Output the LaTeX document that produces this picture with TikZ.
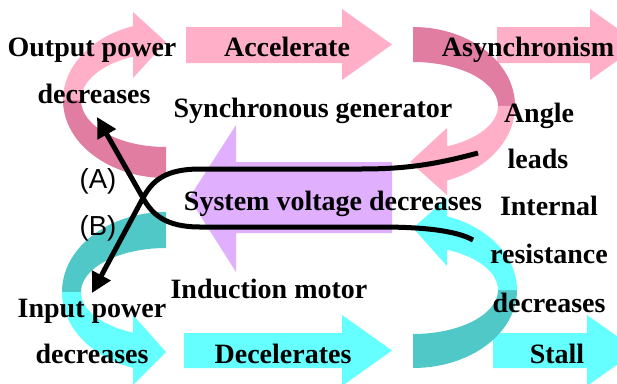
\documentclass[tikz,border=0pt]{standalone}
\usepackage{fontspec}
\setmainfont{Liberation Serif}
\newfontfamily\labfont{Liberation Sans}
\usetikzlibrary{arrows.meta}
\definecolor{pinkL}{RGB}{255,176,200}
\definecolor{pinkD}{RGB}{224,125,160}
\definecolor{cyanL}{RGB}{102,255,255}
\definecolor{cyanD}{RGB}{80,200,200}
\definecolor{purp}{RGB}{224,176,255}
\begin{document}
\begin{tikzpicture}[x=1pt,y=-1pt,
  txt/.style={font=\bfseries\fontsize{28}{33}\selectfont, inner sep=0pt, anchor=base},
  lab/.style={font=\labfont\fontsize{27.5}{33}\selectfont, inner sep=0pt, anchor=base},
  blk/.style={line width=5pt, draw=black, -{Triangle[length=20pt,width=20pt]}}]
\useasboundingbox (0,0) rectangle (617,383);
\clip (0,0) rectangle (617,383);
% straight block arrows
\fill[pinkL] (186,27) -- (342,27) -- (342,9) -- (392,44.5) -- (342,80) -- (342,63) -- (186,63) -- cycle;
\fill[pinkL] (497,27) -- (590,27) -- (590,9) -- (640,44.5) -- (590,80) -- (590,63) -- (497,63) -- cycle;
\fill[cyanL] (184,333) -- (342,333) -- (342,315) -- (392,350.5) -- (342,386) -- (342,368) -- (184,368) -- cycle;
\fill[cyanL] (493,333) -- (587,333) -- (587,315) -- (637,350.5) -- (587,386) -- (587,368) -- (493,368) -- cycle;
\fill[purp] (392,162) -- (236,162) -- (236,125) -- (189,198) -- (236,272) -- (236,233) -- (392,233) -- cycle;
% left pink curve
\fill[pinkD] (166,178) arc[start angle=270,end angle=180,x radius=103pt,y radius=78pt]
  -- (81,100) arc[start angle=180,end angle=270,x radius=85pt,y radius=47pt] -- cycle;
\fill[pinkL] (63,100) arc[start angle=180,end angle=108.69,x radius=103pt,y radius=78pt]
  -- (133,12) -- (166,42) -- (133,78) -- (133,56.7)
  arc[start angle=112.84,end angle=180,x radius=85pt,y radius=47pt] -- cycle;
% right pink curve
\fill[pinkD] (413,27) arc[start angle=90,end angle=0,x radius=102pt,y radius=79pt]
  -- (498,106) arc[start angle=0,end angle=90,x radius=85pt,y radius=44pt] -- cycle;
\fill[pinkL] (515,106) arc[start angle=0,end angle=-70.53,x radius=102pt,y radius=79pt]
  -- (447,195) -- (410,162) -- (447,128) -- (447,146.3)
  arc[start angle=-66.42,end angle=0,x radius=85pt,y radius=44pt] -- cycle;
% left cyan curve
\fill[cyanD] (166,212) arc[start angle=90,end angle=180,x radius=104pt,y radius=80pt]
  -- (81,292) arc[start angle=180,end angle=90,x radius=85pt,y radius=44pt] -- cycle;
\fill[cyanL] (62,292) arc[start angle=180,end angle=251.5,x radius=104pt,y radius=80pt]
  -- (133,385) -- (166,352) -- (133,315) -- (133,332.6)
  arc[start angle=247.16,end angle=180,x radius=85pt,y radius=44pt] -- cycle;
% right cyan curve
\fill[cyanD] (413,368) arc[start angle=270,end angle=360,x radius=104pt,y radius=78pt]
  -- (498,290) arc[start angle=0,end angle=-90,x radius=85pt,y radius=44pt] -- cycle;
\fill[cyanL] (517,290) arc[start angle=0,end angle=70.92,x radius=104pt,y radius=78pt]
  -- (447,198) -- (413,228) -- (447,266) -- (447,249.7)
  arc[start angle=66.42,end angle=0,x radius=85pt,y radius=44pt] -- cycle;
% texts
\node[txt] (out1) at (92,56) {Output power};
\node[txt] (out2) at (94,103) {decreases};
\node[txt] (acc) at (287,56) {Accelerate};
\node[txt] (asy) at (528,56) {Asynchronism};
\node[txt] (syn) at (313,117) {Synchronous generator};
\node[txt] (ang1) at (539,122) {Angle};
\node[txt] (ang2) at (538,168) {leads};
\node[txt] (sys) at (333,210) {System voltage decreases};
\node[txt] (int1) at (549,215) {Internal};
\node[txt] (int2) at (549,263) {resistance};
\node[txt] (int3) at (549,312) {decreases};
\node[txt] (ind) at (269,298) {Induction motor};
\node[txt] (inp1) at (92,317) {Input power};
\node[txt] (inp2) at (92,363) {decreases};
\node[txt] (dec) at (283,363) {Decelerates};
\node[txt] (stall) at (557,363) {Stall};
\node[lab] (la) at (98,188) {(A)};
\node[lab] (lb) at (98,235) {(B)};
% black connectors
\coordinate (X) at (143,198);
\coordinate (tipA) at (97,117);
\coordinate (tipB) at (92,293);
\coordinate (startU) at (478,153);
\coordinate (startL) at (473,240);
\draw[blk] (startU) .. controls (430,166) and (400,169) .. (360,169) -- (200,169)
  .. controls (165,169) and (152,181) .. (X) -- (tipB);
\draw[blk] (startL) .. controls (455,230) and (420,227) .. (380,227) -- (200,227)
  .. controls (165,227) and (152,214) .. (X) -- (tipA);
\end{tikzpicture}
\end{document}
